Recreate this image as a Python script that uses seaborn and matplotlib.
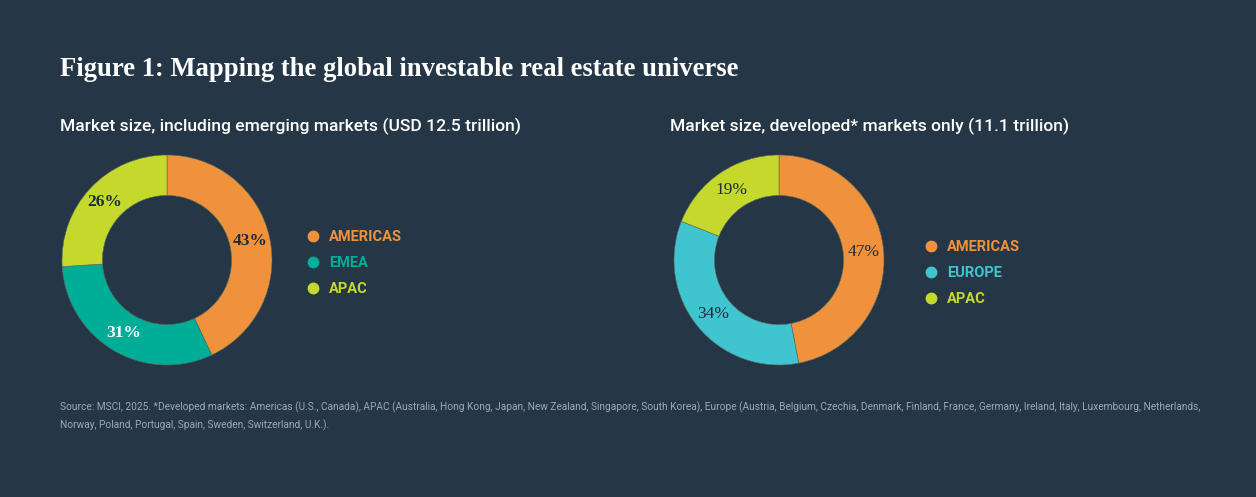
import matplotlib
matplotlib.use("Agg")
import matplotlib.pyplot as plt
import seaborn as sns
from matplotlib.lines import Line2D

# Data
left_regions = ["AMERICAS", "EMEA", "APAC"]
left_shares = [43, 31, 26]
right_regions = ["AMERICAS", "EUROPE", "APAC"]
right_shares = [47, 34, 19]

title = "Figure 1: Mapping the global investable real estate universe"
left_sub = "Market size, including emerging markets (USD 12.5 trillion)"
right_sub = "Market size, developed* markets only (11.1 trillion)"
source = ("Source: MSCI, 2025. *Developed markets: Americas (U.S., Canada), APAC (Australia, Hong Kong, Japan, "
          "New Zealand, Singapore, South Korea), Europe (Austria, Belgium, Czechia, Denmark, Finland, France, "
          "Germany, Ireland, Italy, Luxembourg, Netherlands,\nNorway, Poland, Portugal, Spain, Sweden, Switzerland, U.K.).")

bg = "#253746"
orange, teal, lime, cyan = "#F0923B", "#00AE97", "#C5D92D", "#40C4D0"
dark = "#1B2D3C"
left_colors = sns.color_palette([orange, teal, lime])
right_colors = sns.color_palette([orange, cyan, lime])
left_label_colors = [dark, "white", dark]
right_label_colors = [dark, dark, dark]

sns.set_theme(style="white")
plt.rcParams["figure.facecolor"] = bg
plt.rcParams["axes.facecolor"] = bg
narrow = ["Liberation Sans Narrow", "Roboto", "DejaVu Sans"]
serif = ["Liberation Serif", "DejaVu Serif"]

W, H = 1256, 497
fig = plt.figure(figsize=(W / 100, H / 100), dpi=100)


def donut(box, shares, colors, label_colors, weight):
    ax = fig.add_axes([box[0] / W, 1 - box[3] / H, (box[2] - box[0]) / W, (box[3] - box[1]) / H])
    wedges, texts = ax.pie(shares, colors=colors, startangle=90, counterclock=False,
                           labels=[f"{v}%" for v in shares], labeldistance=0.81,
                           wedgeprops=dict(width=0.385, edgecolor="#5a6a5a", linewidth=0.4))
    for t, c in zip(texts, label_colors):
        t.set_color(c)
        t.set_fontsize(12.5)
        t.set_family(serif)
        t.set_fontweight(weight)
        t.set_ha("center")
        t.set_va("center")
    ax.set_xlim(-1, 1)
    ax.set_ylim(-1, 1)
    ax.set_aspect("equal")
    ax.axis("off")
    return ax


def legend(names, colors, x, y):
    handles = [Line2D([], [], marker="o", linestyle="", markersize=7.5, color=c) for c in colors]
    leg = fig.legend(handles, names, loc="center left", bbox_to_anchor=(x / W, 1 - y / H),
                     frameon=False, handletextpad=0.1, labelspacing=0.85,
                     prop={"family": narrow, "size": 10.5, "weight": "bold"})
    for t, c in zip(leg.get_texts(), colors):
        t.set_color(c)


donut((62, 155, 272, 365), left_shares, left_colors, left_label_colors, "bold")
donut((674, 155, 884, 365), right_shares, right_colors, right_label_colors, "normal")

legend(left_regions, left_colors, 285, 263)
legend(right_regions, right_colors, 903, 273)

fig.text(60 / W, 1 - 70 / H, title, color="white", fontsize=19.2, fontweight="bold",
         family=serif, va="center", ha="left")
fig.text(60 / W, 1 - 126 / H, left_sub, color="white", fontsize=12.6, family=narrow,
         fontweight="medium", va="center", ha="left")
fig.text(670 / W, 1 - 126 / H, right_sub, color="white", fontsize=12.6, family=narrow,
         fontweight="medium", va="center", ha="left")
fig.text(60 / W, 1 - 416 / H, source, color="#9ea8b1", fontsize=7.3, family=narrow,
         va="center", ha="left", linespacing=1.75)

fig.savefig("out.png", dpi=100, facecolor=bg)
